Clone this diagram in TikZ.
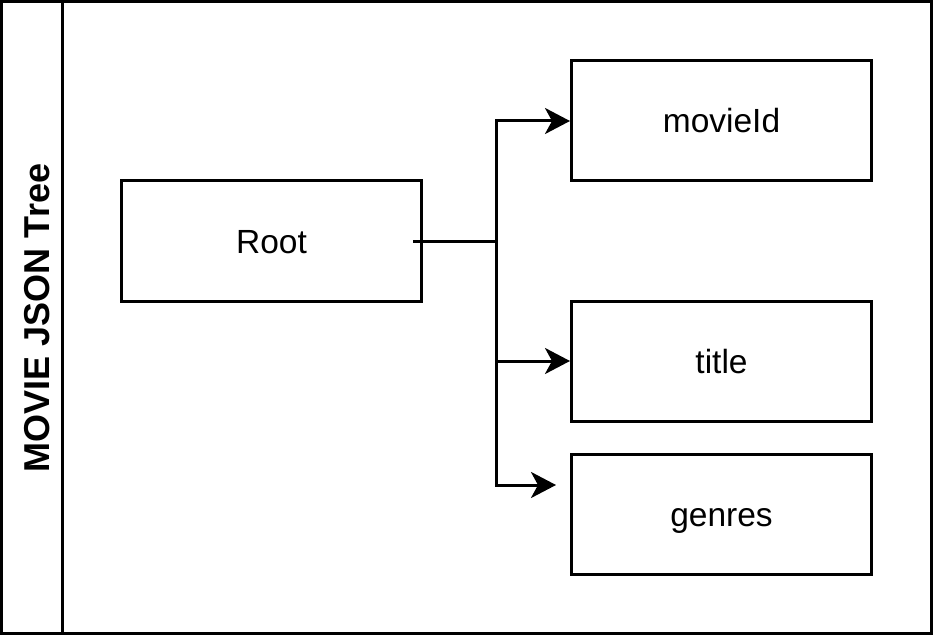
\documentclass[tikz,border=0pt]{standalone}
\usepackage{fontspec}
\setmainfont{Liberation Sans}
\usetikzlibrary{arrows.meta}
\begin{document}
\begin{tikzpicture}[x=1pt,y=-1pt,
  box/.style={draw=black,line width=3pt,minimum width=300pt,minimum height=120pt,inner sep=0pt,text height=24pt,text depth=0pt,font=\fontsize{33.5}{40}\selectfont},
  conn/.style={line width=3pt},
  arr/.style={conn,-{Stealth[length=25pt,width=26pt,inset=7pt]}}]
\useasboundingbox (0,0) rectangle (933,636);
\draw[line width=3pt] (1.5,1.5) rectangle (931.5,633.5);
\draw[line width=3pt] (62,1.5) -- (62,633.5);
\node[rotate=90,font=\fontsize{36}{42}\selectfont\bfseries] (ttl) at (37,318) {MOVIE JSON Tree};
\node[box] (root) at (271.5,241) {Root};
\node[box] (movieId) at (721.5,121) {movieId};
\node[box] (title) at (721.5,361) {title};
\node[box] (genres) at (721.5,514) {genres};
\coordinate (s) at (413,241);
\coordinate (j) at (496,241);
\coordinate (g) at (556,485);
\draw[conn] (s) -- (j);
\draw[arr] (j) |- (movieId.west);
\draw[arr] (j) |- (title.west);
\draw[arr] (j) |- (g);
\end{tikzpicture}
\end{document}
